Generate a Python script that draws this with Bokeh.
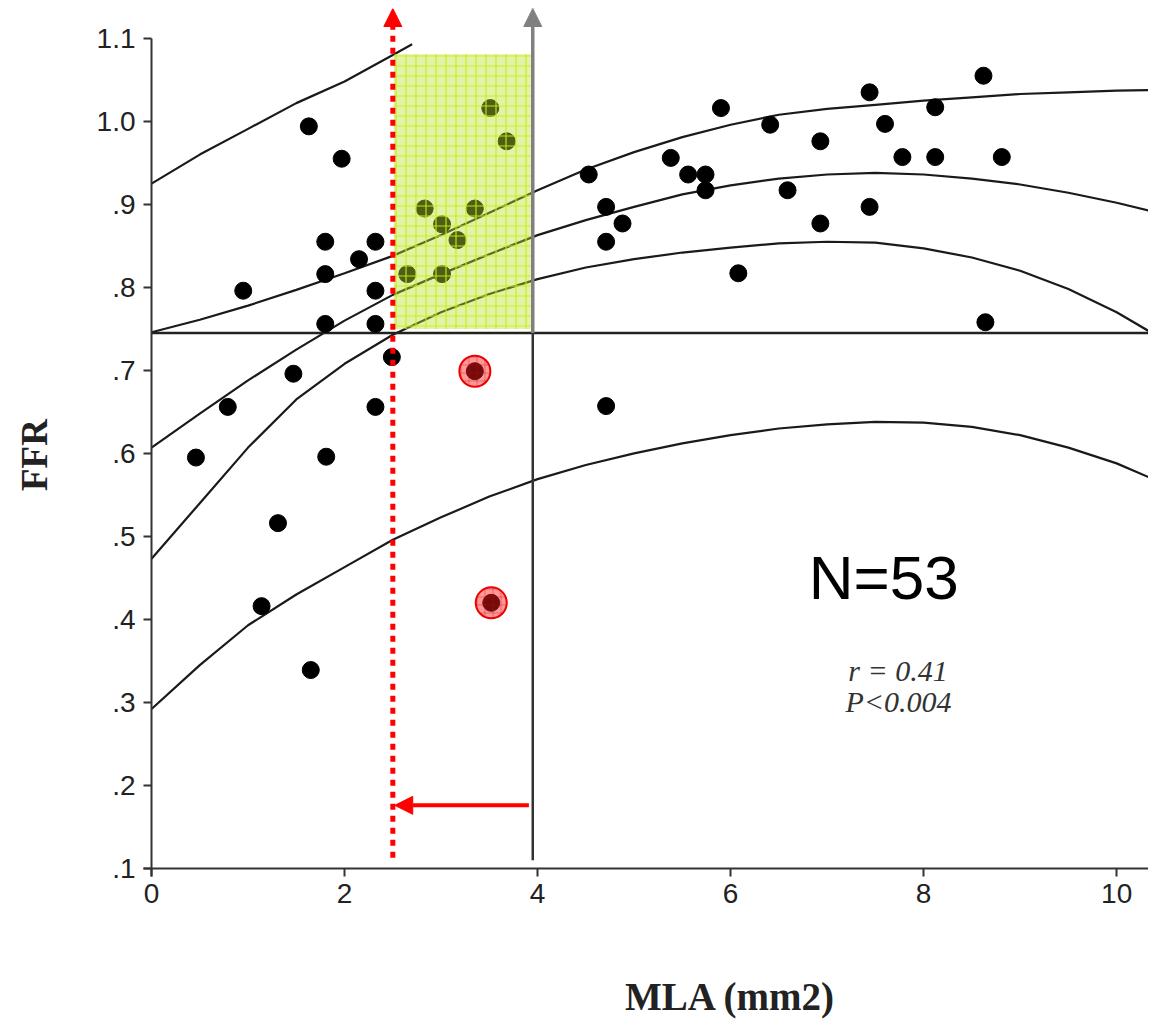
import math
from bokeh.plotting import figure
from bokeh.models import Range1d, FixedTicker, Label, Arrow, NormalHead
from bokeh.embed import file_html
from bokeh.resources import INLINE

# ---- data ----
mla = [0.46, 0.95, 0.79, 1.47, 1.63, 1.97, 1.80, 1.80, 1.80, 2.15, 2.32, 2.32, 2.32, 2.49, 2.32,
       1.81, 1.31, 1.14, 1.65,
       4.53, 4.71, 4.88, 4.71, 4.71, 5.38, 5.56, 5.74, 5.74, 5.90, 6.08, 6.41, 6.59, 6.93, 6.93,
       7.44, 7.44, 7.60, 7.78, 8.12, 8.12, 8.62, 8.81, 8.64,
       3.51, 3.68, 2.83, 3.35, 3.01, 3.17, 2.65, 3.01,
       3.35, 3.52]
ffr = [0.595, 0.796, 0.656, 0.696, 0.994, 0.955, 0.855, 0.816, 0.756, 0.834, 0.855, 0.796, 0.756, 0.716, 0.656,
       0.596, 0.516, 0.416, 0.339,
       0.936, 0.897, 0.877, 0.855, 0.657, 0.956, 0.936, 0.936, 0.917, 1.016, 0.817, 0.996, 0.917, 0.976, 0.877,
       1.035, 0.897, 0.997, 0.957, 1.017, 0.957, 1.055, 0.957, 0.758,
       1.016, 0.976, 0.895, 0.895, 0.876, 0.857, 0.816, 0.816,
       0.699, 0.420]
highlight_mla = [3.35, 3.52]
highlight_ffr = [0.699, 0.420]

curve_x = [0, 0.5, 1, 1.5, 2, 2.5, 3, 3.5, 4, 4.5, 5, 5.5, 6, 6.5, 7, 7.5, 8, 8.5, 9, 9.5, 10, 10.5]
fit_y = [0.607, 0.648, 0.688, 0.725, 0.760, 0.791, 0.816, 0.840, 0.863, 0.881, 0.897, 0.912,
         0.923, 0.931, 0.936, 0.938, 0.936, 0.931, 0.924, 0.914, 0.902, 0.888]
upper_ci = [0.746, 0.761, 0.778, 0.797, 0.817, 0.838, 0.863, 0.890, 0.917, 0.942, 0.963, 0.981,
            0.996, 1.008, 1.015, 1.020, 1.025, 1.029, 1.033, 1.035, 1.037, 1.038]
lower_ci = [0.473, 0.540, 0.607, 0.665, 0.708, 0.743, 0.770, 0.792, 0.810, 0.824, 0.834, 0.842,
            0.848, 0.853, 0.855, 0.854, 0.847, 0.836, 0.820, 0.798, 0.770, 0.736]
lower_pi = [0.292, 0.345, 0.393, 0.430, 0.463, 0.496, 0.523, 0.548, 0.569, 0.586, 0.600, 0.612,
            0.622, 0.630, 0.635, 0.638, 0.637, 0.632, 0.622, 0.607, 0.588, 0.563]
upper_pi_x = [0, 0.5, 1, 1.5, 2, 2.5, 2.7]
upper_pi = [0.925, 0.960, 0.991, 1.022, 1.048, 1.080, 1.093]

ffr_cutoff = 0.745
mla_cutoff_new = 2.5
mla_cutoff_old = 3.95
zone_mla = [2.51, 3.93]
zone_ffr = [0.75, 1.081]

x_ticks = [0, 2, 4, 6, 8, 10]
y_ticks = [0.1, 0.2, 0.3, 0.4, 0.5, 0.6, 0.7, 0.8, 0.9, 1.0, 1.1]
y_tick_labels = [".1", ".2", ".3", ".4", ".5", ".6", ".7", ".8", ".9", "1.0", "1.1"]

X_START = -1.565
X_END = 10.33
Y_TOP = 1.136
Y_BOTTOM = -0.082
X_AXIS_AT = 0.1
Y_AXIS_AT = 0.0

# ---- figure ----
p = figure(width=1148, height=1019, x_range=Range1d(X_START, X_END), y_range=Range1d(Y_BOTTOM, Y_TOP),
           output_backend="svg", toolbar_location=None,
           min_border_left=0, min_border_right=0, min_border_top=8, min_border_bottom=0)
p.outline_line_color = None
p.xgrid.visible = False
p.ygrid.visible = False
p.background_fill_color = "white"
p.border_fill_color = "white"

for ax in (p.xaxis[0], p.yaxis[0]):
    ax.axis_line_color = "#333333"
    ax.axis_line_width = 2
    ax.major_tick_line_color = "#333333"
    ax.major_tick_line_width = 2
    ax.major_tick_in = 0
    ax.major_tick_out = 8
    ax.minor_tick_line_color = None
    ax.major_label_text_font = "Liberation Sans"
    ax.major_label_text_font_size = "28px"
    ax.major_label_text_color = "#222222"
    ax.major_label_standoff = 8

p.xaxis.ticker = FixedTicker(ticks=x_ticks)
p.xaxis.fixed_location = X_AXIS_AT
p.xaxis.bounds = (-0.08, X_END)
p.yaxis.ticker = FixedTicker(ticks=y_ticks)
p.yaxis.major_label_overrides = {t: s for t, s in zip(y_ticks, y_tick_labels)}
p.yaxis.fixed_location = Y_AXIS_AT
p.yaxis.bounds = (0.09, 1.1)

# regression curve and bands
for ys in (fit_y, upper_ci, lower_ci, lower_pi):
    p.line(curve_x, ys, line_color="#1a1a1a", line_width=2.2)
p.line(upper_pi_x, upper_pi, line_color="#1a1a1a", line_width=2.2)

# FFR cutoff
p.line([0, X_END], [ffr_cutoff, ffr_cutoff], line_color="#222222", line_width=2.5)

# points
p.scatter(mla, ffr, size=17, fill_color="black", line_color="black")

# lower part of old MLA cutoff
p.line([mla_cutoff_old, mla_cutoff_old], [0.11, ffr_cutoff], line_color="#333333", line_width=2.5)

# green zone
p.quad(left=zone_mla[0], right=zone_mla[1], bottom=zone_ffr[0], top=zone_ffr[1],
       fill_color="#bce132", fill_alpha=0.42, line_color=None,
       hatch_pattern="cross", hatch_color="#c4ee10", hatch_alpha=0.9, hatch_scale=10, hatch_weight=1.2)

# highlighted points
p.scatter(highlight_mla, highlight_ffr, size=31, fill_color="#ff1a1a", fill_alpha=0.45,
          line_color="#ee0000", line_width=2,
          hatch_pattern="cross", hatch_color="#cc0000", hatch_alpha=0.35, hatch_scale=8)

# arrows
p.add_layout(Arrow(end=NormalHead(size=18, fill_color="#808080", line_color="#808080"),
                   x_start=mla_cutoff_old, y_start=ffr_cutoff, x_end=mla_cutoff_old, y_end=Y_TOP,
                   line_color="#808080", line_width=3.5))
p.add_layout(Arrow(end=NormalHead(size=18, fill_color="#ff0000", line_color="#ff0000"),
                   x_start=mla_cutoff_new, y_start=0.113, x_end=mla_cutoff_new, y_end=Y_TOP,
                   line_color="#ff0000", line_width=5, line_dash="6 6"))
p.add_layout(Arrow(end=NormalHead(size=18, fill_color="#ff0000", line_color="#ff0000"),
                   x_start=3.91, y_start=0.176, x_end=2.52, y_end=0.176,
                   line_color="#ff0000", line_width=4))

# texts
p.add_layout(Label(x=6.81, y=0.451, text="N=53", text_font="Liberation Sans",
                   text_font_size="62px", text_color="black", text_baseline="middle"))
p.add_layout(Label(x=7.22, y=0.339, text="r = 0.41", text_font="Liberation Serif",
                   text_font_style="italic", text_font_size="30px", text_color="#333333",
                   text_baseline="middle"))
p.add_layout(Label(x=7.19, y=0.301, text="P<0.004", text_font="Liberation Serif",
                   text_font_style="italic", text_font_size="30px", text_color="#333333",
                   text_baseline="middle"))
p.add_layout(Label(x=6.0, y=-0.054, text="MLA (mm2)", text_font="Liberation Serif",
                   text_font_style="bold", text_font_size="39px", text_color="#222222",
                   text_align="center", text_baseline="middle"))
p.add_layout(Label(x=-1.21, y=0.598, text="FFR", angle=math.pi / 2, text_font="Liberation Serif",
                   text_font_style="bold", text_font_size="37px", text_color="#222222",
                   text_align="center", text_baseline="middle"))

open("out.html", "w").write(file_html(p, INLINE))
